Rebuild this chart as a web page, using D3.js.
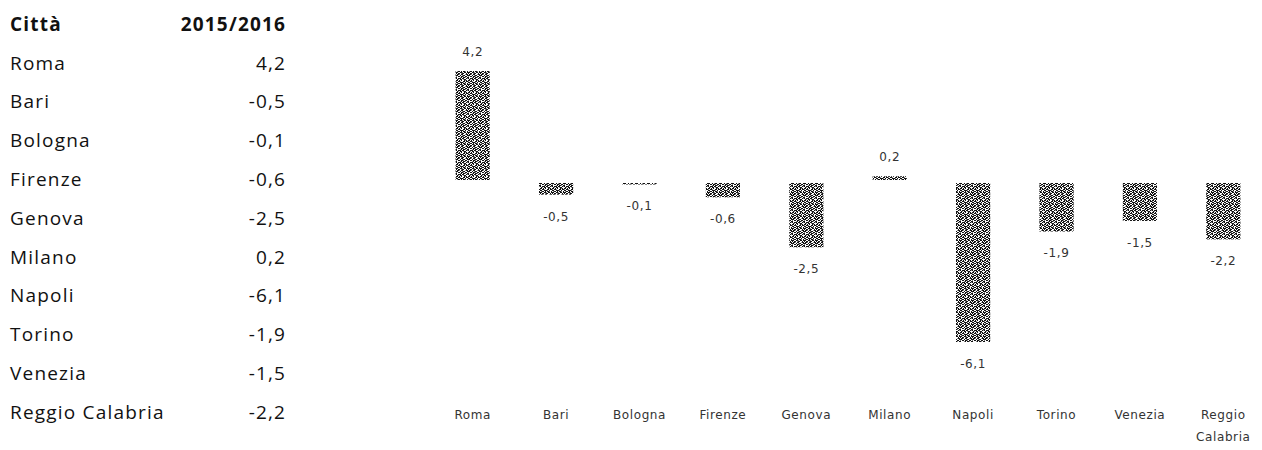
<!DOCTYPE html>
<html>
<head>
<meta charset="utf-8">
<script src="https://cdn.jsdelivr.net/npm/d3@7"></script>
<style>
  html, body { margin: 0; padding: 0; background: #fff; }
  svg { display: block; }
</style>
</head>
<body>
<svg id="chart" width="1262" height="450"></svg>
<script>
// Variazione 2015/2016 per città
const cities = ["Roma", "Bari", "Bologna", "Firenze", "Genova", "Milano", "Napoli", "Torino", "Venezia", "Reggio Calabria"];
const values = [4.2, -0.5, -0.1, -0.6, -2.5, 0.2, -6.1, -1.9, -1.5, -2.2];
const tableHeader = ["Città", "2015/2016"];

const fmt = v => d3.format(".1f")(v).replace(".", ",").replace("−", "-");

const svg = d3.select("#chart");

// Speckled fill used for the bars (0 = black, 1 = grey, 2 = white)
const speckle = [
  "002200120020",
  "020021002202",
  "200120022100",
  "002202100220",
  "120020012002",
  "022210200120",
  "020002002201",
  "201200210022",
  "002020220102",
  "120012200200",
  "002200012022",
  "210020200120"
];
const shade = { "0": "#111", "1": "#8c8c8c", "2": "#fff" };
const pat = svg.append("defs").append("pattern")
  .attr("id", "speckle")
  .attr("patternUnits", "userSpaceOnUse")
  .attr("width", 12).attr("height", 12);
speckle.forEach((row, r) => {
  row.split("").forEach((c, col) => {
    pat.append("rect")
      .attr("x", col).attr("y", r)
      .attr("width", 1).attr("height", 1)
      .attr("fill", shade[c]);
  });
});

// ---- Table on the left ----
const tableFont = "'Open Sans', Lato, sans-serif";
const spacing = 1.2;
const rowY = d3.scaleLinear().domain([0, 1]).range([63, 101.8]);
const table = svg.append("g").attr("font-family", tableFont).attr("font-size", 19)
  .attr("letter-spacing", spacing).attr("fill", "#111");

table.append("text").attr("x", 10).attr("y", rowY(-1)).attr("dy", "0.35em")
  .attr("font-weight", "bold").text(tableHeader[0]);
table.append("text").attr("x", 285 + spacing).attr("y", rowY(-1)).attr("dy", "0.35em")
  .attr("text-anchor", "end").attr("font-weight", "bold").text(tableHeader[1]);

table.selectAll("text.city").data(cities).join("text")
  .attr("class", "city")
  .attr("x", 10).attr("y", (d, i) => rowY(i)).attr("dy", "0.35em")
  .text(d => d);

table.selectAll("text.val").data(values).join("text")
  .attr("class", "val")
  .attr("x", 285 + spacing).attr("y", (d, i) => rowY(i)).attr("dy", "0.35em")
  .attr("text-anchor", "end")
  .text(d => fmt(d));

// ---- Bar chart ----
const x = d3.scaleBand().domain(cities).range([431, 1265]).paddingInner(0.59).paddingOuter(0.295);
const y = d3.scaleLinear().domain([-6.1, 4.2]).range([342, 71]);

const bars = svg.append("g");
bars.selectAll("rect").data(values).join("rect")
  .attr("x", (d, i) => x(cities[i]))
  .attr("width", x.bandwidth())
  .attr("y", d => d >= 0 ? y(d) : y(0) + 1.5)
  .attr("height", d => Math.max(1.5, Math.abs(y(d) - y(0)) - 1.5))
  .attr("fill", "url(#speckle)");

const labelFont = "'DejaVu Sans', sans-serif";
svg.append("g").attr("font-family", labelFont).attr("font-size", 12).attr("fill", "#333")
  .attr("letter-spacing", 0.6)
  .selectAll("text").data(values).join("text")
  .attr("x", (d, i) => x(cities[i]) + x.bandwidth() / 2)
  .attr("y", d => d >= 0 ? y(d) - 15 : y(d) + 26)
  .attr("text-anchor", "middle")
  .text(d => fmt(d));

// Category axis (no line, no ticks)
const axis = svg.append("g")
  .attr("transform", "translate(0,415)")
  .call(d3.axisBottom(x).tickSize(0).tickPadding(0));
axis.select(".domain").remove();
axis.selectAll("text")
  .attr("font-family", labelFont).attr("font-size", 12).attr("fill", "#333")
  .attr("letter-spacing", 0.6)
  .attr("dy", "0.35em")
  .each(function (d) {
    const words = d.split(" ");
    const t = d3.select(this);
    if (words.length > 1) {
      t.text(null);
      words.forEach((w, k) => {
        t.append("tspan").attr("x", 0).attr("dy", k === 0 ? "0.35em" : "1.8em").text(w);
      });
    }
  });
</script>
</body>
</html>
